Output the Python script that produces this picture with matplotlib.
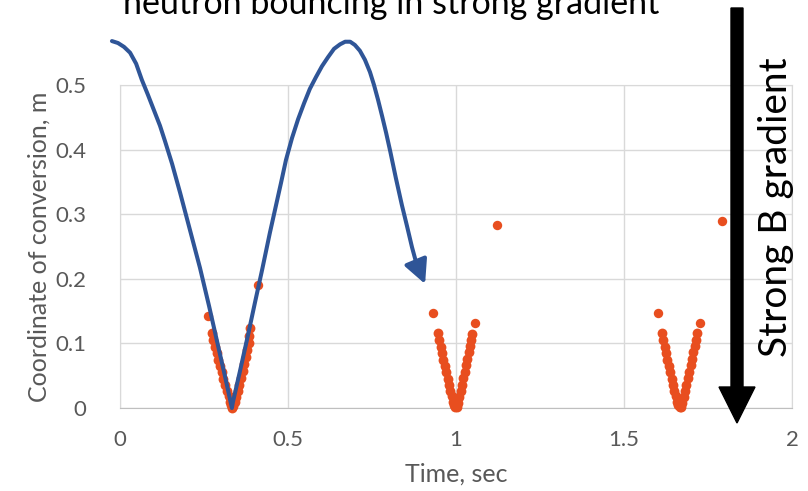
import matplotlib
matplotlib.use("Agg")
import matplotlib.pyplot as plt
from matplotlib.patches import FancyArrow

plt.rcParams['font.family'] = ['Lato', 'DejaVu Sans']

# orange points: conversion coordinate vs time (three dips + stray points)
dip_t = [0.274, 0.278, 0.283, 0.288, 0.293, 0.298, 0.303, 0.308, 0.313, 0.318, 0.323, 0.327, 0.330, 0.333,
         0.337, 0.341, 0.345, 0.350, 0.355, 0.360, 0.365, 0.370, 0.375, 0.379, 0.383, 0.385, 0.387,
         0.946, 0.950, 0.954, 0.958, 0.962, 0.967, 0.971, 0.975, 0.979, 0.983, 0.987, 0.991, 0.994, 0.998,
         1.002, 1.006, 1.010, 1.014, 1.018, 1.022, 1.026, 1.030, 1.034, 1.038, 1.041, 1.044, 1.048,
         1.613, 1.617, 1.621, 1.625, 1.629, 1.634, 1.638, 1.642, 1.646, 1.650, 1.654, 1.658, 1.662, 1.666,
         1.670, 1.674, 1.678, 1.682, 1.686, 1.690, 1.694, 1.698, 1.702, 1.706, 1.710, 1.713, 1.717]
dip_y = [0.116, 0.105, 0.095, 0.085, 0.075, 0.065, 0.055, 0.045, 0.036, 0.027, 0.018, 0.010, 0.004, 0.000,
         0.003, 0.009, 0.017, 0.026, 0.036, 0.046, 0.057, 0.068, 0.079, 0.090, 0.101, 0.112, 0.124,
         0.116, 0.105, 0.095, 0.085, 0.075, 0.065, 0.055, 0.045, 0.036, 0.027, 0.018, 0.010, 0.004, 0.001,
         0.002, 0.008, 0.017, 0.026, 0.036, 0.046, 0.056, 0.066, 0.076, 0.086, 0.096, 0.105, 0.114,
         0.116, 0.105, 0.095, 0.085, 0.075, 0.065, 0.055, 0.045, 0.036, 0.027, 0.018, 0.010, 0.004, 0.001,
         0.002, 0.008, 0.017, 0.026, 0.036, 0.046, 0.056, 0.066, 0.076, 0.086, 0.096, 0.105, 0.116]
stray_t = [0.262, 0.411, 0.932, 1.057, 1.122, 1.601, 1.726, 1.792]
stray_y = [0.142, 0.190, 0.147, 0.132, 0.283, 0.147, 0.132, 0.290]

# hand-drawn bounce trajectory (blue)
traj_t = [-0.024, -0.006, 0.012, 0.030, 0.048, 0.065, 0.083, 0.104, 0.119, 0.134,
          0.155, 0.179, 0.208, 0.238, 0.265, 0.292, 0.313, 0.333,
          0.336, 0.357, 0.381, 0.402, 0.423, 0.446, 0.464, 0.479, 0.494, 0.512,
          0.530, 0.548, 0.565, 0.583, 0.601, 0.619, 0.637, 0.655, 0.670, 0.685,
          0.699, 0.714, 0.729, 0.744, 0.756, 0.768, 0.780, 0.792, 0.804, 0.821,
          0.839, 0.854, 0.869, 0.881]
traj_y = [0.568, 0.565, 0.559, 0.550, 0.533, 0.508, 0.485, 0.457, 0.437, 0.413,
          0.378, 0.333, 0.276, 0.217, 0.158, 0.096, 0.048, 0.000,
          0.009, 0.057, 0.113, 0.164, 0.214, 0.271, 0.313, 0.348, 0.384, 0.418,
          0.447, 0.472, 0.494, 0.512, 0.529, 0.543, 0.556, 0.563, 0.567, 0.567,
          0.562, 0.553, 0.539, 0.520, 0.500, 0.477, 0.452, 0.426, 0.398, 0.356,
          0.314, 0.282, 0.249, 0.226]
arrow_tip = (0.908, 0.192)

xticks = [0, 0.5, 1, 1.5, 2]
xticklabels = ['0', '0.5', '1', '1.5', '2']
yticks = [0, 0.1, 0.2, 0.3, 0.4, 0.5]
yticklabels = ['0', '0.1', '0.2', '0.3', '0.4', '0.5']

orange = '#E84E1F'
blue = '#2F5597'
grey = '#595959'

fig = plt.figure(figsize=(8.08, 4.91), dpi=100)
ax = fig.add_axes([120 / 808, 1 - 408 / 491, 672 / 808, 323 / 491])

ax.scatter(dip_t, dip_y, s=50, color=orange, linewidths=0, zorder=3, clip_on=False)
ax.scatter(stray_t, stray_y, s=46, color=orange, linewidths=0, zorder=3, clip_on=False)

ax.plot(traj_t, traj_y, color=blue, lw=2.9, zorder=4, clip_on=False,
        solid_capstyle='round', solid_joinstyle='round')
ax.annotate('', xy=arrow_tip, xytext=(traj_t[-1], traj_y[-1]),
            arrowprops=dict(arrowstyle='-|>,head_length=0.8,head_width=0.4', color=blue,
                            lw=2.9, shrinkA=0, shrinkB=0, mutation_scale=18),
            annotation_clip=False, zorder=4)

ax.set_xlim(0, 2)
ax.set_ylim(0, 0.5)
ax.set_xticks(xticks)
ax.set_xticklabels(xticklabels)
ax.set_yticks(yticks)
ax.set_yticklabels(yticklabels)
ax.tick_params(length=0, colors=grey, labelsize=16)
ax.tick_params(axis='x', pad=16)
ax.tick_params(axis='y', pad=24)
ax.grid(True, color='#D9D9D9', lw=1)
ax.set_axisbelow(True)
for side in ['left', 'top', 'right']:
    ax.spines[side].set_color('#D9D9D9')
ax.spines['bottom'].set_color('#BFBFBF')

ax.set_xlabel('Time, sec', color=grey, fontsize=18)
ax.xaxis.set_label_coords(0.5, -0.17)
ax.set_ylabel('Coordinate of conversion, m', color=grey, fontsize=18)
ax.yaxis.set_label_coords(-0.104, 0.5)

fig.text(391 / 808, 1 - 14 / 491, 'neutron bouncing in strong gradient',
         ha='center', va='baseline', fontsize=24.5, color='black')

# big gradient arrow on the right
fig.patches.append(FancyArrow(7.37, 4.83, 0, -4.15, width=0.12, head_width=0.36,
                              head_length=0.36, length_includes_head=True,
                              color='black', transform=fig.dpi_scale_trans))
fig.text(776 / 808, 1 - 207 / 491, 'Strong B gradient', rotation=90,
         ha='center', va='center', fontsize=28, color='black')

fig.savefig('out.png', dpi=100)
